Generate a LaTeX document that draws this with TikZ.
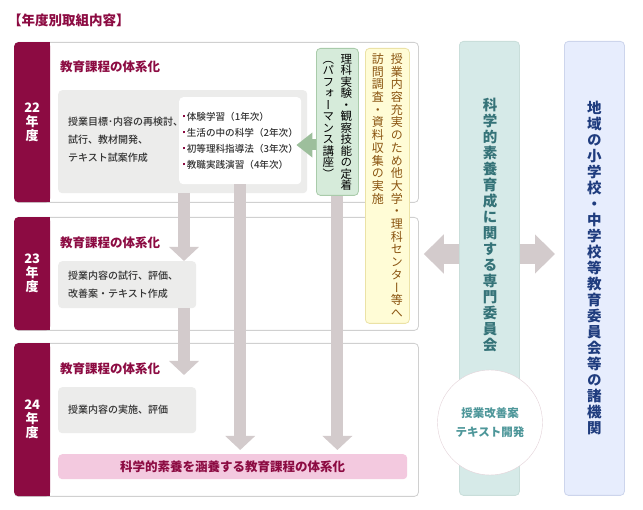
\documentclass[tikz,border=0pt]{standalone}
\usepackage{fontspec}
\setmainfont{Noto Sans CJK JP}
\newfontfamily\medfont{Noto Sans CJK JP Medium}
\newfontfamily\tatefont[RawFeature=+vert]{Noto Sans CJK JP}
\usetikzlibrary{arrows.meta}
\definecolor{wine}{HTML}{8C0B42}
\definecolor{framegray}{HTML}{D0D0D0}
\definecolor{boxgray}{HTML}{ECECEB}
\definecolor{textgray}{HTML}{333333}
\definecolor{arrowgray}{HTML}{D3CBCC}
\definecolor{greenfill}{HTML}{D6EBDA}
\definecolor{greenline}{HTML}{A9CBAA}
\definecolor{arrowgreen}{HTML}{9DBF9C}
\definecolor{yellowfill}{HTML}{FFFCD6}
\definecolor{yellowline}{HTML}{EBE2A6}
\definecolor{brown}{HTML}{8A5410}
\definecolor{pinkfill}{HTML}{F3C9DF}
\definecolor{tealfill}{HTML}{D6EAE8}
\definecolor{tealline}{HTML}{C9DEDA}
\definecolor{tealtext}{HTML}{357378}
\definecolor{circtext}{HTML}{4E979A}
\definecolor{circline}{HTML}{E3D2D8}
\definecolor{bluefill}{HTML}{E7EDFD}
\definecolor{blueline}{HTML}{CDD5EC}
\definecolor{navy}{HTML}{1F3C7E}
% vertical writing: one character per cell
\makeatletter
\newcommand\tate[2]{\vtop{\offinterlineskip\@tfor\tate@c:=#2\do{\vbox to #1{\vss\hbox to 1em{\hss\vrule height .88em depth .12em width 0pt\tate@c\hss}\vss}}}}
\makeatother
\begin{document}
\begin{tikzpicture}[x=1pt, y=-1pt,
  frame/.style={draw=framegray, line width=.8pt, rounded corners=4pt, fill=white, anchor=north west, inner sep=0pt},
  band/.style={fill=wine, rounded corners=4pt, anchor=north west, minimum width=36pt, inner sep=0pt, text=white, align=center, font=\fontsize{13}{14}\selectfont\bfseries},
  head/.style={anchor=west, inner sep=0pt, text=wine, font=\fontsize{12.5}{14}\selectfont\bfseries},
  graybox/.style={fill=boxgray, rounded corners=4pt, anchor=north west, inner sep=0pt},
  body/.style={align=left, text=textgray, font=\medfont\fontsize{10}{18}\selectfont},
  down/.style={draw=arrowgray, line width=12pt, -{Triangle[width=29pt,length=14pt]}},
  wide/.style={draw=arrowgray, line width=20pt, -{Triangle[width=38pt,length=20pt]}},
  garrow/.style={draw=arrowgreen, line width=11pt, -{Triangle[width=24pt,length=16pt]}},
  column/.style={rounded corners=4pt, line width=.8pt, anchor=north west, inner sep=0pt}]
\useasboundingbox (0,0) rectangle (643,510);
\node[anchor=west, inner sep=0pt, text=wine, font=\fontsize{13.5}{15}\selectfont\bfseries] (title) at (8,20) {【年度別取組内容】};
%% years
\begin{scope}
\node[frame, minimum width=404pt, minimum height=160pt] (y22) at (14,42) {};
\node[frame, minimum width=404pt, minimum height=113pt] (y23) at (14,217) {};
\node[frame, minimum width=404pt, minimum height=153pt] (y24) at (14,343) {};
\node[band, minimum height=160pt] (b22) at (14,42) {22\\年\\度};
\node[band, minimum height=113pt] (b23) at (14,217) {23\\年\\度};
\node[band, minimum height=153pt] (b24) at (14,343) {24\\年\\度};
\fill[wine] ([xshift=-5pt]b22.north east) rectangle (b22.south east);
\fill[wine] ([xshift=-5pt]b23.north east) rectangle (b23.south east);
\fill[wine] ([xshift=-5pt]b24.north east) rectangle (b24.south east);
\node[head] (h22) at (60,67) {教育課程の体系化};
\node[head] (h23) at (60,243) {教育課程の体系化};
\node[head] (h24) at (60,369) {教育課程の体系化};
\end{scope}
\begin{scope}
\node[graybox, minimum width=249pt, minimum height=103pt] (plan22) at (58,90) {};
\node[body, anchor=west, inner sep=0pt] (text22) at (68,140) {授業目標･内容の再検討、\\試行、教材開発、\\テキスト試案作成};
\node[graybox, fill=white, minimum width=122pt, minimum height=87pt] (course22) at (179,97) {};
\node[body, anchor=west, inner sep=0pt, font=\medfont\fontsize{9.6}{16}\selectfont] (list22) at (183,140.5) {%
\textcolor{wine}{\rule[.3em]{2pt}{2pt}}\,体験学習（1年次）\\
\textcolor{wine}{\rule[.3em]{2pt}{2pt}}\,生活の中の科学（2年次）\\
\textcolor{wine}{\rule[.3em]{2pt}{2pt}}\,初等理科指導法（3年次）\\
\textcolor{wine}{\rule[.3em]{2pt}{2pt}}\,教職実践演習（4年次）};
\node[graybox, body, minimum width=138pt, minimum height=47pt, text width=118pt, inner xsep=10pt] (plan23) at (58,261) {授業内容の試行、評価、\\改善案・テキスト作成};
\node[graybox, body, minimum width=138pt, minimum height=46pt, text width=118pt, inner xsep=10pt] (plan24) at (58,387) {授業内容の実施、評価};
\node[graybox, fill=pinkfill, minimum width=349pt, minimum height=25pt, text=wine, font=\fontsize{12.5}{14}\selectfont\bfseries] (sys) at (58,454) {科学的素養を涵養する教育課程の体系化};
\node[column, draw=greenline, fill=greenfill, minimum width=42pt, minimum height=147pt, text=black, font=\tatefont\fontsize{11.5}{11.5}\selectfont] (perf) at (316,48)
  {\tate{11.5pt}{（パフォーマンス講座）}\hskip6.5pt\tate{11.5pt}{理科実験・観察技能の定着}};
\node[column, draw=yellowline, fill=yellowfill, minimum width=44pt, minimum height=275pt, text=brown, font=\tatefont\fontsize{12}{12}\selectfont] (visit) at (365,48)
  {\tate{12.7pt}{訪問調査・資料収集の実施}\hskip7pt\tate{12.7pt}{授業内容充実のため他大学・理科センター等へ}};
\end{scope}
%% right side
\begin{scope}
\node[column, draw=tealline, fill=tealfill, minimum width=60pt, minimum height=454pt] (comm) at (459,41) {};
\node[anchor=north, inner sep=0pt, text=tealtext, font=\tatefont\fontsize{14.5}{14.5}\selectfont\bfseries] (commtext) at (490,97) {\tate{16pt}{科学的素養育成に関する専門委員会}};
\node[circle, draw=circline, fill=white, minimum size=105pt, inner sep=0pt, align=center, text=circtext, font=\fontsize{11.5}{19}\selectfont\bfseries] (circ) at (490,422.5) {授業改善案\\テキスト開発};
\node[column, draw=blueline, fill=bluefill, minimum width=60pt, minimum height=454pt, text=navy, font=\tatefont\fontsize{14.5}{14.5}\selectfont\bfseries] (region) at (564,41) {\tate{16pt}{地域の小学校・中学校等教育委員会等の諸機関}};
\end{scope}
%% arrows
\draw[down] (plan22.south -| 184,0) -- (plan23.north -| 184,0);
\draw[down, shorten >=12pt] (plan23.south -| 184,0) -- (plan24.north -| 184,0);
\draw[down, shorten >=4pt] (course22.south) -- (sys.north -| course22.south);
\draw[down, shorten >=4pt] (perf.south) -- (sys.north -| perf.south);
\draw[garrow, shorten >=-5pt] (perf.west |- 0,145) -- (course22.east |- 0,145);
\draw[wide, shorten >=5pt] (comm.west |- 0,254) -- (y23.east |- 0,254);
\draw[wide, shorten >=9pt] (comm.east |- 0,254) -- (region.west |- 0,254);
\end{tikzpicture}
\end{document}
